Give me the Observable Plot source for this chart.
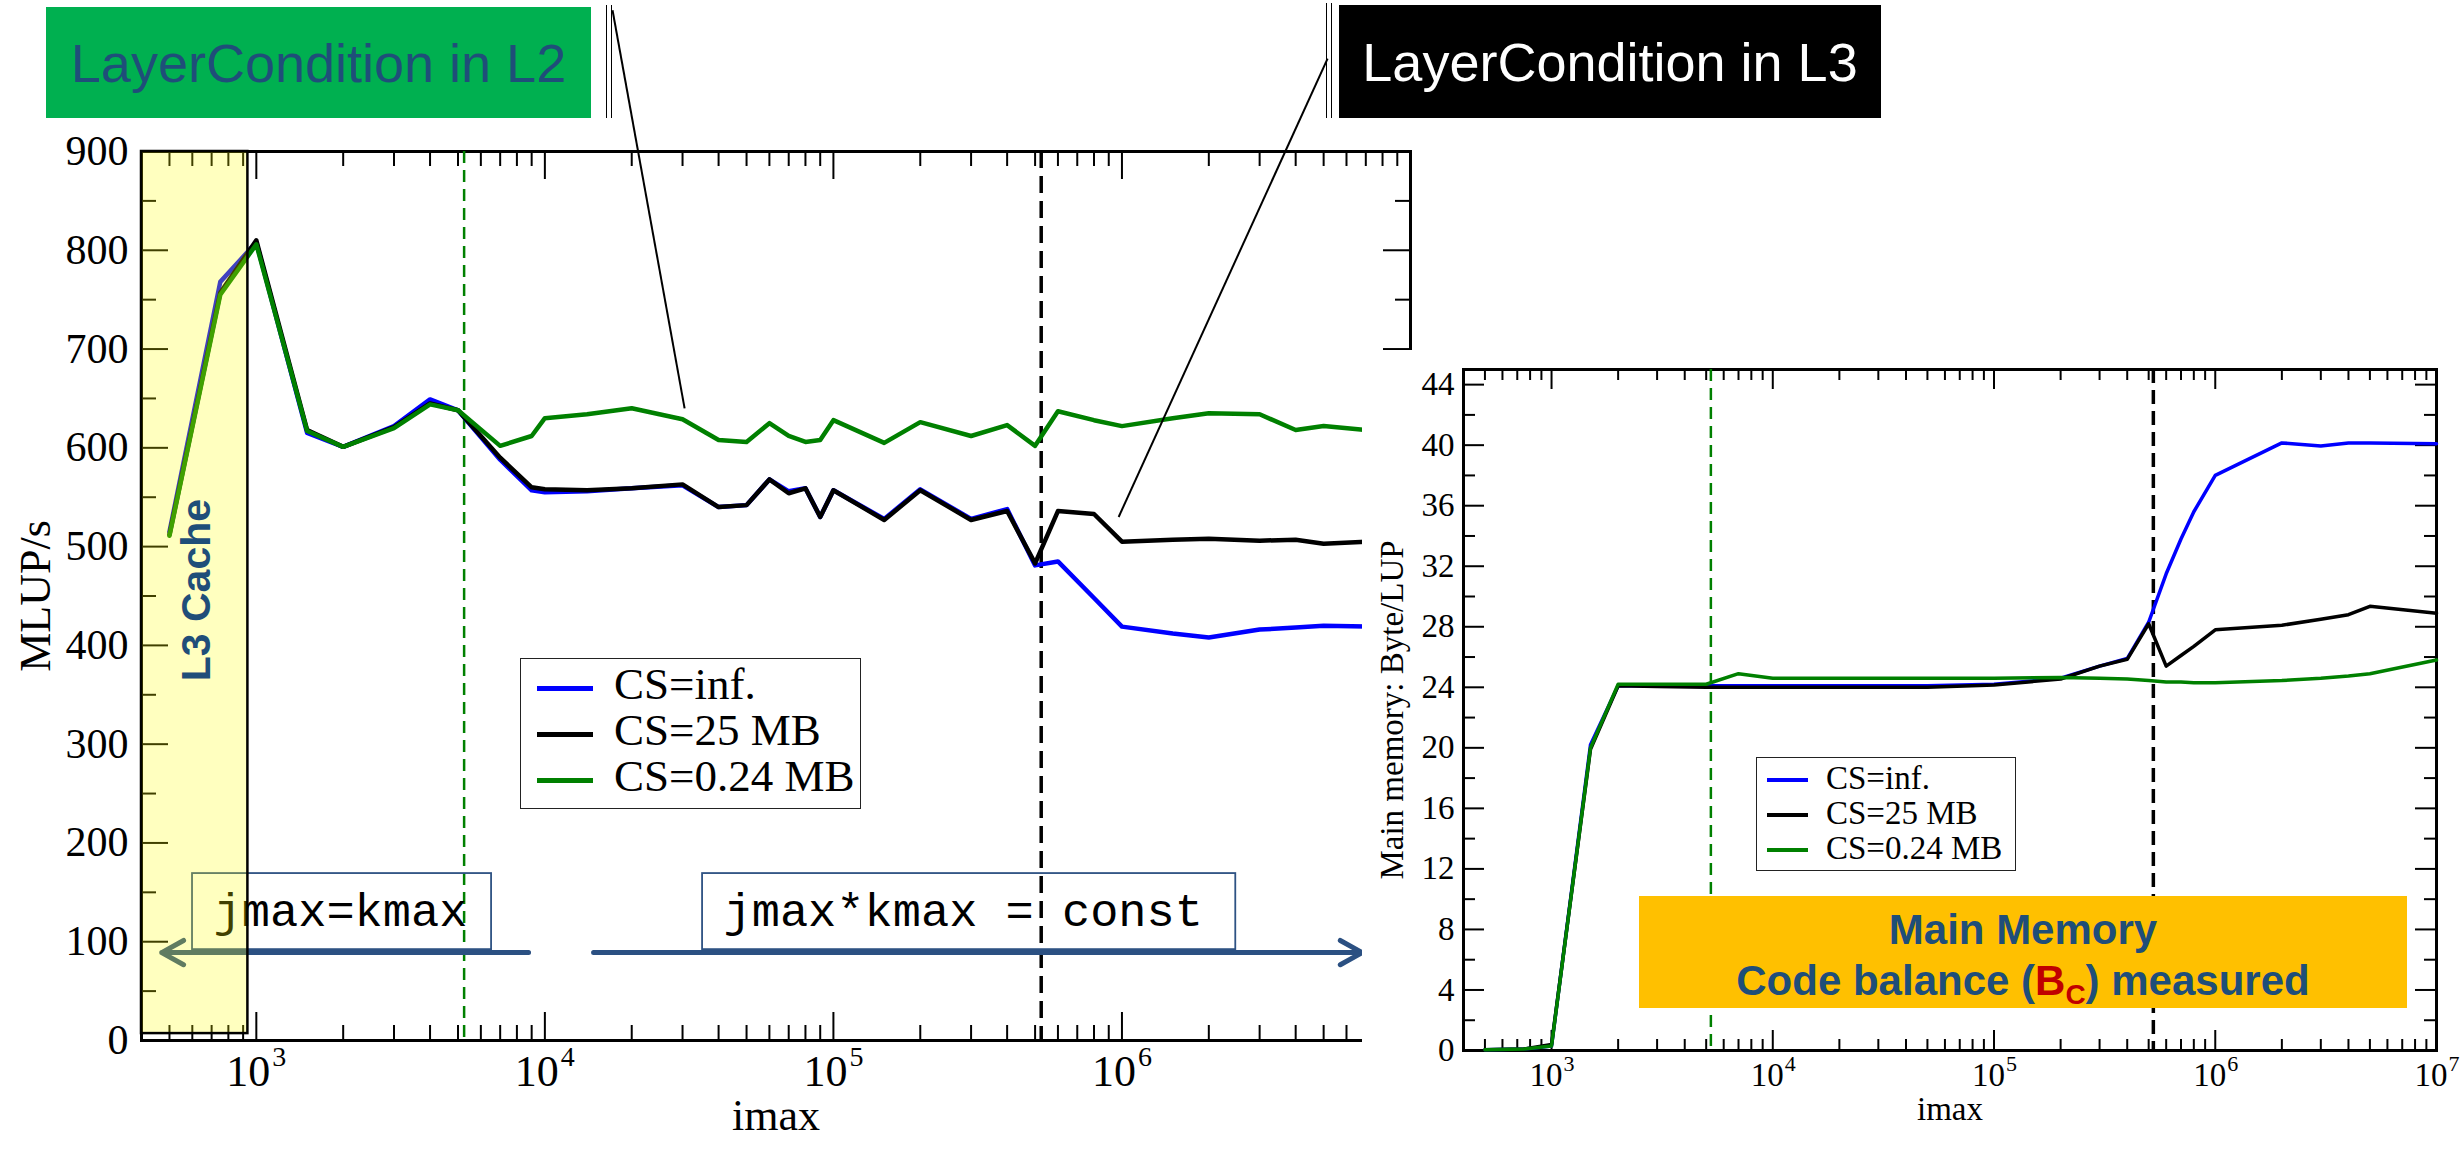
<!DOCTYPE html>
<html><head><meta charset="utf-8">
<script src="https://cdn.jsdelivr.net/npm/d3@7"></script>
<script src="https://cdn.jsdelivr.net/npm/@observablehq/plot@0.6"></script>
<style>
html,body{margin:0;padding:0;background:#fff;}
#root{position:relative;width:2464px;height:1149px;overflow:hidden;background:#fff;}
.abs{position:absolute;box-sizing:border-box;}
.vl{position:absolute;width:0;border-left:1.6px solid #000;}
</style></head><body><div id="root"></div>
<script>
// ---------------- DATA ----------------
// Left panel: performance (MLUP/s) vs imax
const leftImax = [500, 750, 1000, 1500, 2000, 3000, 4000, 5000, 7000, 9000, 10000, 14000, 20000, 30000, 40000, 50000, 60000, 70000, 80000, 90000, 100000, 150000, 200000, 300000, 400000, 500000, 600000, 800000, 1000000, 1500000, 2000000, 3000000, 4000000, 5000000, 7000000];
const leftCSinf = [515, 768, 808, 615, 601, 622, 649, 638, 588, 557, 555, 556, 559, 562, 540, 542, 568, 556, 559, 530, 557, 528, 558, 528, 538, 481, 485, 448, 419, 412, 408, 416, 418, 420, 419];
const leftCS25  = [512, 757, 810, 618, 601, 621, 645, 638, 590, 560, 558, 557, 559, 563, 540, 542, 568, 554, 559, 530, 557, 527, 557, 527, 536, 483, 536, 533, 505, 507, 508, 506, 507, 503, 505];
const leftCS024 = [511, 755, 806, 617, 601, 620, 644, 638, 602, 612, 630, 634, 640, 629, 608, 606, 625, 612, 606, 608, 628, 605, 626, 612, 623, 602, 637, 628, 622, 630, 635, 634, 618, 622, 618];

// Right panel: main memory code balance (Byte/LUP) vs imax
const rightImax = [500, 750, 1000, 1500, 2000, 3000, 5000, 7000, 10000, 20000, 50000, 100000, 200000, 300000, 400000, 500000, 600000, 700000, 800000, 1000000, 2000000, 3000000, 4000000, 5000000, 10000000];
const rightCSinf = [0.05, 0.1, 0.3, 20.2, 24.1, 24.1, 24.1, 24.1, 24.1, 24.1, 24.1, 24.2, 24.6, 25.4, 25.9, 28.3, 31.5, 33.8, 35.6, 38.0, 40.15, 39.95, 40.15, 40.15, 40.1];
const rightCS25  = [0.05, 0.1, 0.4, 19.9, 24.1, 24.05, 24.0, 24.0, 24.0, 24.0, 24.0, 24.15, 24.55, 25.4, 25.85, 28.2, 25.4, 26.1, 26.7, 27.8, 28.1, 28.5, 28.8, 29.35, 28.9];
const rightCS024 = [0.05, 0.1, 0.3, 20.0, 24.2, 24.2, 24.2, 24.9, 24.6, 24.6, 24.6, 24.6, 24.65, 24.6, 24.55, 24.45, 24.35, 24.35, 24.3, 24.3, 24.45, 24.6, 24.75, 24.9, 25.8];

const seriesNames = ["CS=inf.", "CS=25 MB", "CS=0.24 MB"];
const leftYTicks = [0, 100, 200, 300, 400, 500, 600, 700, 800, 900];
const leftYMinor = [50, 150, 250, 350, 450, 550, 650, 750, 850];
const rightYTicks = [0, 4, 8, 12, 16, 20, 24, 28, 32, 36, 40, 44];
const rightYMinor = [2, 6, 10, 14, 18, 22, 26, 30, 34, 38, 42];
const xMajorLeft = [1e3, 1e4, 1e5, 1e6];
const xMajorRight = [1e3, 1e4, 1e5, 1e6, 1e7];
const xMinor = [];
for (const dec of [100, 1000, 10000, 100000, 1000000]) for (let k = 2; k <= 9; k++) if (k * dec > 400) xMinor.push(k * dec);
const layerCondition = {L2: 5250, L3: 525000};

// annotations (in data coordinates of the left panel)
const l3CacheRegion = {x1: 400, x2: 935, y1: 7, y2: 900, label: "L3 Cache", tx: 620, ty: 456};
const modeBoxes = [
  {label: "jmax=kmax", x1: 601, x2: 6536, y1: 92, y2: 169, tx: 711, ty: 131},
  {label: "jmax*kmax = const", x1: 35200, x2: 2480000, y1: 92, y2: 169, tx: 41600, ty: 131}
];
const modeArrows = [
  {x1: 8780, x2: 470, y1: 89, y2: 89},
  {x1: 14750, x2: 6800000, y1: 89, y2: 89}
];
const callouts = [
  {x1: 17160, y1: 1043, x2: 30500, y2: 640},
  {x1: 5160000, y1: 994, x2: 974000, y2: 530}
];

// ---------------- STYLE ----------------
const SERIF = "Liberation Serif, Times New Roman, serif";
const SANS = "Liberation Sans, Arial, sans-serif";
const MONO = "Liberation Mono, Courier New, monospace";
const colors = ["#0000ff", "#000000", "#008000"];
const NAVY = "#1F4E79";

function rows(xs, ys) { return xs.map((x, i) => ({x, y: ys[i]})); }

function frameTicks(c) {
  const yu = (c.yDom[1] - c.yDom[0]) / c.ph;
  const dec = Math.log10(c.xDom[1] / c.xDom[0]);
  const f = px => Math.pow(10, px * dec / c.pw);
  const m = [];
  for (const [data, len] of [[c.xMaj, c.lxMaj], [c.xMin, c.lxMin]]) {
    m.push(Plot.ruleX(data, {x: d => d, y1: c.yDom[0], y2: c.yDom[0] + len * yu, stroke: "#000", strokeWidth: c.sw}));
    m.push(Plot.ruleX(data, {x: d => d, y1: c.yDom[1] - len * yu, y2: c.yDom[1], stroke: "#000", strokeWidth: c.sw}));
  }
  for (const [data, len] of [[c.yMaj, c.lyMaj], [c.yMin, c.lyMin]]) {
    m.push(Plot.ruleY(data, {y: d => d, x1: c.xDom[0], x2: c.xDom[0] * f(len), stroke: "#000", strokeWidth: c.sw}));
    m.push(Plot.ruleY(data, {y: d => d, x1: c.xDom[1] / f(len), x2: c.xDom[1], stroke: "#000", strokeWidth: c.sw}));
  }
  return m;
}

const root = document.getElementById("root");

// ---------------- LEFT PANEL ----------------
const LW = 1420, LH = 1149, LM = {l: 141, r: 10, t: 151, b: 109};
const leftPlot = Plot.plot({
  width: LW, height: LH,
  marginLeft: LM.l, marginRight: LM.r, marginTop: LM.t, marginBottom: LM.b,
  x: {type: "log", domain: [400, 1e7], axis: null},
  y: {domain: [0, 900], axis: null},
  style: {background: "transparent", overflow: "visible"},
  marks: [
    ...frameTicks({xDom: [400, 1e7], yDom: [0, 900], pw: LW - LM.l - LM.r, ph: LH - LM.t - LM.b,
      xMaj: xMajorLeft, xMin: xMinor, yMaj: leftYTicks, yMin: leftYMinor,
      lxMaj: 28, lxMin: 15, lyMaj: 27, lyMin: 15, sw: 2}),
    Plot.frame({stroke: "#000", strokeWidth: 3}),
    Plot.text(leftYTicks, {y: d => d, frameAnchor: "left", text: d => String(d), textAnchor: "end", dx: -13, fontSize: 42, fontFamily: SERIF, fill: "#000"}),
    Plot.text(xMajorLeft, {x: d => d, frameAnchor: "bottom", text: () => "10", textAnchor: "end", dx: 14, dy: 45, fontSize: 44, fontFamily: SERIF, fill: "#000"}),
    Plot.text(xMajorLeft, {x: d => d, frameAnchor: "bottom", text: d => String(Math.round(Math.log10(d))), textAnchor: "start", dx: 16, dy: 25, fontSize: 28, fontFamily: SERIF, fill: "#000"}),
    Plot.text(["imax"], {frameAnchor: "bottom", text: d => d, textAnchor: "middle", dy: 89, fontSize: 44, fontFamily: SERIF, fill: "#000"}),
    Plot.text(["MLUP/s"], {frameAnchor: "left", text: d => d, textAnchor: "middle", rotate: -90, dx: -106, fontSize: 44, fontFamily: SERIF, fill: "#000"}),
    Plot.ruleX([layerCondition.L2], {x: d => d, stroke: "#008000", strokeWidth: 2.5, strokeDasharray: "12,7"}),
    Plot.ruleX([layerCondition.L3], {x: d => d, stroke: "#000", strokeWidth: 3.5, strokeDasharray: "17,8"}),
    Plot.line(rows(leftImax, leftCSinf), {x: "x", y: "y", stroke: colors[0], strokeWidth: 4.5}),
    Plot.line(rows(leftImax, leftCS25), {x: "x", y: "y", stroke: colors[1], strokeWidth: 4.5}),
    Plot.line(rows(leftImax, leftCS024), {x: "x", y: "y", stroke: colors[2], strokeWidth: 4.5}),
    Plot.rect(modeBoxes, {x1: "x1", x2: "x2", y1: "y1", y2: "y2", fill: "none", stroke: "#2E5283", strokeWidth: 1.8}),
    Plot.text(modeBoxes, {x: "tx", y: "ty", text: "label", textAnchor: "start", fontSize: 47, fontFamily: MONO, fill: "#000"}),
    Plot.arrow(modeArrows, {x1: "x1", y1: "y1", x2: "x2", y2: "y2", stroke: "#2B5082", strokeWidth: 5, headLength: 7.5, headAngle: 58}),
    Plot.link(callouts, {x1: "x1", y1: "y1", x2: "x2", y2: "y2", stroke: "#000", strokeWidth: 2}),
    Plot.rect([l3CacheRegion], {x1: "x1", x2: "x2", y1: "y1", y2: "y2", fill: "#ffff00", fillOpacity: 0.25, stroke: "#000", strokeWidth: 2.5}),
    Plot.text([l3CacheRegion], {x: "tx", y: "ty", text: "label", rotate: -90, fontSize: 41, fontWeight: "bold", fontFamily: SANS, fill: NAVY})
  ]
});
const leftWrap = document.createElement("div");
leftWrap.className = "abs";
leftWrap.style.cssText = `left:0;top:0;width:${LW}px;height:${LH}px;`;
leftWrap.appendChild(leftPlot);
root.appendChild(leftWrap);

// ---------------- RIGHT PANEL ----------------
const RW = 1102, RH = 799, RM = {l: 101, r: 28, t: 19, b: 99};
const rightPlot = Plot.plot({
  width: RW, height: RH,
  marginLeft: RM.l, marginRight: RM.r, marginTop: RM.t, marginBottom: RM.b,
  x: {type: "log", domain: [400, 1e7], axis: null},
  y: {domain: [0, 45], axis: null},
  style: {background: "#fff", overflow: "visible"},
  marks: [
    ...frameTicks({xDom: [400, 1e7], yDom: [0, 45], pw: RW - RM.l - RM.r, ph: RH - RM.t - RM.b,
      xMaj: xMajorRight, xMin: xMinor, yMaj: rightYTicks, yMin: rightYMinor,
      lxMaj: 20, lxMin: 11, lyMaj: 21, lyMin: 12, sw: 2}),
    Plot.frame({stroke: "#000", strokeWidth: 3}),
    Plot.text(rightYTicks, {y: d => d, frameAnchor: "left", text: d => String(d), textAnchor: "end", dx: -9, fontSize: 33, fontFamily: SERIF, fill: "#000"}),
    Plot.text(xMajorRight, {x: d => d, frameAnchor: "bottom", text: () => "10", textAnchor: "end", dx: 11, dy: 35, fontSize: 33, fontFamily: SERIF, fill: "#000"}),
    Plot.text(xMajorRight, {x: d => d, frameAnchor: "bottom", text: d => String(Math.round(Math.log10(d))), textAnchor: "start", dx: 12, dy: 20, fontSize: 22, fontFamily: SERIF, fill: "#000"}),
    Plot.text(["imax"], {frameAnchor: "bottom", text: d => d, textAnchor: "middle", dy: 69, fontSize: 33, fontFamily: SERIF, fill: "#000"}),
    Plot.text(["Main memory: Byte/LUP"], {frameAnchor: "left", text: d => d, textAnchor: "middle", rotate: -90, dx: -71, fontSize: 33, fontFamily: SERIF, fill: "#000"}),
    Plot.ruleX([layerCondition.L2], {x: d => d, stroke: "#008000", strokeWidth: 2.5, strokeDasharray: "12,7"}),
    Plot.ruleX([layerCondition.L3], {x: d => d, stroke: "#000", strokeWidth: 3.5, strokeDasharray: "14,7"}),
    Plot.line(rows(rightImax, rightCSinf), {x: "x", y: "y", stroke: colors[0], strokeWidth: 3.5}),
    Plot.line(rows(rightImax, rightCS25), {x: "x", y: "y", stroke: colors[1], strokeWidth: 3.5}),
    Plot.line(rows(rightImax, rightCS024), {x: "x", y: "y", stroke: colors[2], strokeWidth: 3.5})
  ]
});
const rightWrap = document.createElement("div");
rightWrap.className = "abs";
rightWrap.style.cssText = `left:1362px;top:350px;width:${RW}px;height:${RH}px;background:#fff;`;
rightWrap.appendChild(rightPlot);
root.appendChild(rightWrap);

// ---------------- LEGENDS & CALLOUTS (HTML) ----------------
function legend(box, rowY, lineX, lineW, lineH, textX, fontSize) {
  const d = document.createElement("div");
  d.className = "abs";
  d.style.cssText = `left:${box[0]}px;top:${box[1]}px;width:${box[2]}px;height:${box[3]}px;border:1.6px solid #222;background:#fff;`;
  seriesNames.forEach((name, i) => {
    const ln = document.createElement("div");
    ln.className = "abs";
    ln.style.cssText = `left:${lineX}px;top:${rowY[i] - lineH / 2}px;width:${lineW}px;height:${lineH}px;background:${colors[i]};`;
    d.appendChild(ln);
    const t = document.createElement("div");
    t.className = "abs";
    t.style.cssText = `left:${textX}px;top:${rowY[i] - fontSize * 0.62}px;font:${fontSize}px ${SERIF};line-height:1.1;white-space:nowrap;color:#000;`;
    t.textContent = name;
    d.appendChild(t);
  });
  root.appendChild(d);
}
legend([520, 658, 341, 151], [29, 75, 121], 16, 56, 5, 93, 45);
legend([1756, 757, 260, 114], [22, 57, 92], 10, 41, 3.5, 69, 33);

function html(s) { const t = document.createElement("template"); t.innerHTML = s.trim(); root.appendChild(t.content.firstChild); }

html(`<div class="abs" style="left:1639px;top:896px;width:768px;height:112px;background:#FFC000;color:${NAVY};font:bold 42px ${SANS};text-align:center;line-height:51px;padding-top:8px;">
  <div>Main Memory</div>
  <div>Code balance (<span style="color:#C00000">B<span style="font-size:28px;position:relative;top:9px;">C</span></span>) measured</div>
</div>`);

html(`<div class="abs" style="left:46px;top:7px;width:545px;height:111px;background:#00B050;color:${NAVY};font:54px ${SANS};display:flex;align-items:center;justify-content:center;white-space:nowrap;">LayerCondition in L2</div>`);
html(`<div class="abs" style="left:1339px;top:5px;width:542px;height:113px;background:#000;color:#fff;font:54px ${SANS};display:flex;align-items:center;justify-content:center;white-space:nowrap;">LayerCondition in L3</div>`);
html(`<div class="vl" style="left:606px;top:5px;height:113px;"></div>`);
html(`<div class="vl" style="left:611px;top:5px;height:113px;"></div>`);
html(`<div class="vl" style="left:1326px;top:3px;height:115px;"></div>`);
html(`<div class="vl" style="left:1331px;top:3px;height:115px;"></div>`);
</script></body></html>
